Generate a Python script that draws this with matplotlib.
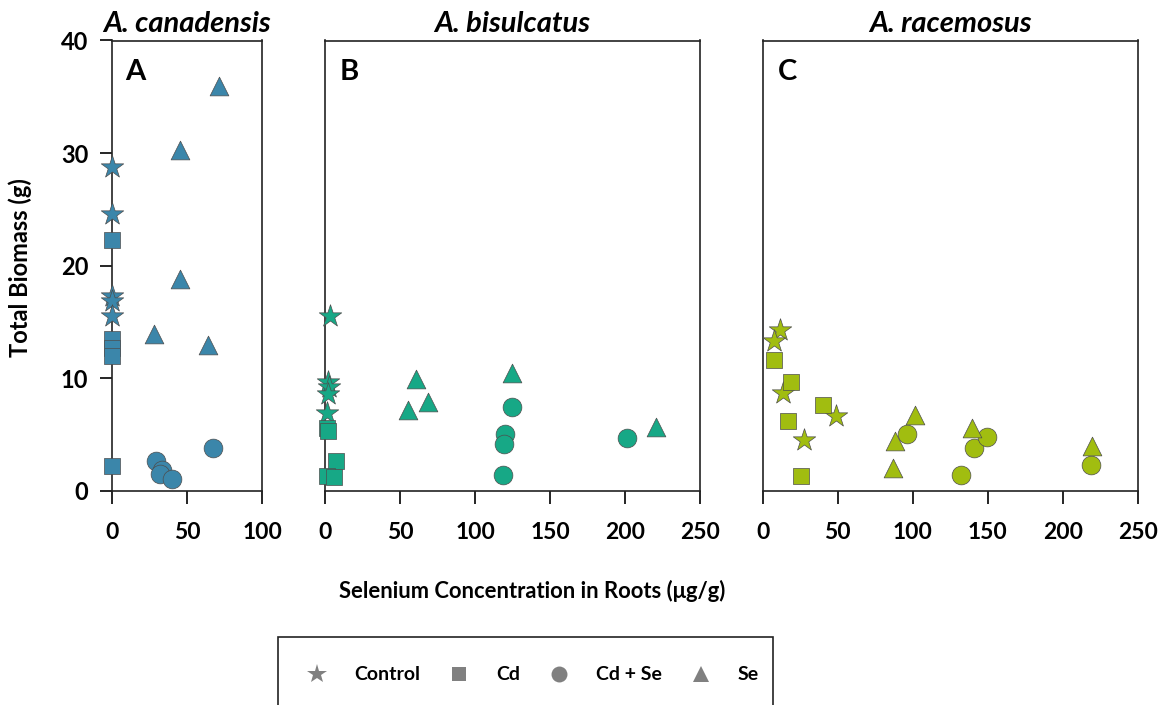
import matplotlib
matplotlib.use("Agg")
import matplotlib.pyplot as plt
from matplotlib.lines import Line2D
from matplotlib.patches import Rectangle

plt.rcParams['font.family'] = ['Lato', 'DejaVu Sans']
plt.rcParams['font.weight'] = 'bold'

species = ["A. canadensis", "A. bisulcatus", "A. racemosus"]
panel_letters = ["A", "B", "C"]
colors = ["#3b86aa", "#17a886", "#a1bd10"]
x_max = [100, 250, 250]

treatments = ["Control", "Cd", "Cd + Se", "Se"]
markers = {"Control": "*", "Cd": "s", "Cd + Se": "o", "Se": "^"}
sizes = {"Control": 17, "Cd": 12, "Cd + Se": 13.5, "Se": 13.5}

# root Se (ug/g) and total biomass (g) per species and treatment
canadensis_x = {
    "Control": [0, 0, 0, 0, 0],
    "Cd": [0, 0, 0, 0, 0],
    "Cd + Se": [29, 33, 32, 40, 67],
    "Se": [71.5, 45, 45.5, 28, 64],
}
canadensis_y = {
    "Control": [28.8, 24.6, 17.3, 16.9, 15.5],
    "Cd": [22.3, 13.5, 12.7, 12.0, 2.2],
    "Cd + Se": [2.7, 1.9, 1.5, 1.1, 3.8],
    "Se": [36.0, 30.3, 18.8, 13.9, 13.0],
}
bisulcatus_x = {
    "Control": [3.3, 2, 2.5, 2, 1.5],
    "Cd": [1, 2, 7, 1, 6],
    "Cd + Se": [124.5, 120, 119.3, 118.7, 201],
    "Se": [60.7, 124.5, 68.9, 55.5, 220.7],
}
bisulcatus_y = {
    "Control": [15.5, 9.7, 9.2, 8.6, 6.9],
    "Cd": [5.6, 5.3, 2.7, 1.3, 1.2],
    "Cd + Se": [7.5, 5.05, 4.2, 1.4, 4.7],
    "Se": [9.95, 10.5, 7.9, 7.2, 5.7],
}
racemosus_x = {
    "Control": [11.5, 7.5, 13.7, 27.5, 48.9],
    "Cd": [7.5, 18.7, 40, 17.1, 25.3],
    "Cd + Se": [96.4, 140.9, 149.3, 132, 218.7],
    "Se": [101.5, 88.2, 87.1, 139.3, 219.3],
}
racemosus_y = {
    "Control": [14.3, 13.3, 8.7, 4.5, 6.7],
    "Cd": [11.6, 9.7, 7.6, 6.2, 1.3],
    "Cd + Se": [5.05, 3.8, 4.8, 1.4, 2.3],
    "Se": [6.75, 4.4, 2.0, 5.6, 4.0],
}
all_x = [canadensis_x, bisulcatus_x, racemosus_x]
all_y = [canadensis_y, bisulcatus_y, racemosus_y]

W, H = 1161, 705
fig = plt.figure(figsize=(W / 100, H / 100), dpi=100)

# panel boxes in pixels: left, right
boxes = [(112, 262), (325, 700), (762.7, 1137.7)]
top_px, bottom_px = 40.5, 491

axes = []
for i, (l, r) in enumerate(boxes):
    ax = fig.add_axes([l / W, (H - bottom_px) / H, (r - l) / W, (bottom_px - top_px) / H])
    for t in treatments:
        ax.scatter(all_x[i][t], all_y[i][t], marker=markers[t], s=sizes[t] ** 2,
                   color=colors[i], edgecolors="#4d4d4d", linewidths=0.5,
                   clip_on=False, zorder=3)
    ax.set_xlim(0, x_max[i])
    ax.set_ylim(0, 40)
    ax.set_xticks(range(0, x_max[i] + 1, 50))
    ax.tick_params(axis="x", direction="out", length=9.5, width=1.2, pad=13, labelsize=16.5)
    if i == 0:
        ax.set_yticks(range(0, 41, 10))
        ax.tick_params(axis="y", direction="out", length=9, width=1.2, pad=8, labelsize=17)
    else:
        ax.tick_params(axis="y", left=False, labelleft=False)
    for sp in ax.spines.values():
        sp.set_linewidth(1.2)
        sp.set_color("#222222")
    ax.set_title(species[i], fontsize=21, fontweight="bold", fontstyle="italic", pad=6)
    ax.text(0.09 if i == 0 else 0.04, 0.96, panel_letters[i], transform=ax.transAxes,
            fontsize=21, fontweight="bold", ha="left", va="top")
    axes.append(ax)

fig.text(20 / W, 1 - 268 / H, "Total Biomass (g)", rotation=90, fontsize=17,
         fontweight="bold", ha="center", va="center")
fig.text(532 / W, 1 - 591 / H, "Selenium Concentration in Roots (\u03bcg/g)",
         fontsize=15.8, fontweight="bold", ha="center", va="center")

# legend box runs past the bottom edge
fig.patches.append(Rectangle((278 / W, -0.05), (773 - 278) / W, 0.05 + (H - 637) / H,
                             transform=fig.transFigure, fill=False, edgecolor="#222222",
                             linewidth=1.2))
handles = [Line2D([], [], linestyle="none", marker=markers[t], markersize=sizes[t] * 0.85,
                  color="#808080", markeredgewidth=0) for t in treatments]
fig.legend(handles, treatments, loc="center", bbox_to_anchor=(533 / W, 1 - 675 / H),
           ncol=4, frameon=False, handlelength=1.0, handletextpad=1.4,
           columnspacing=1.5, prop={"weight": "bold", "size": 14})

fig.savefig("out.png", dpi=100)
